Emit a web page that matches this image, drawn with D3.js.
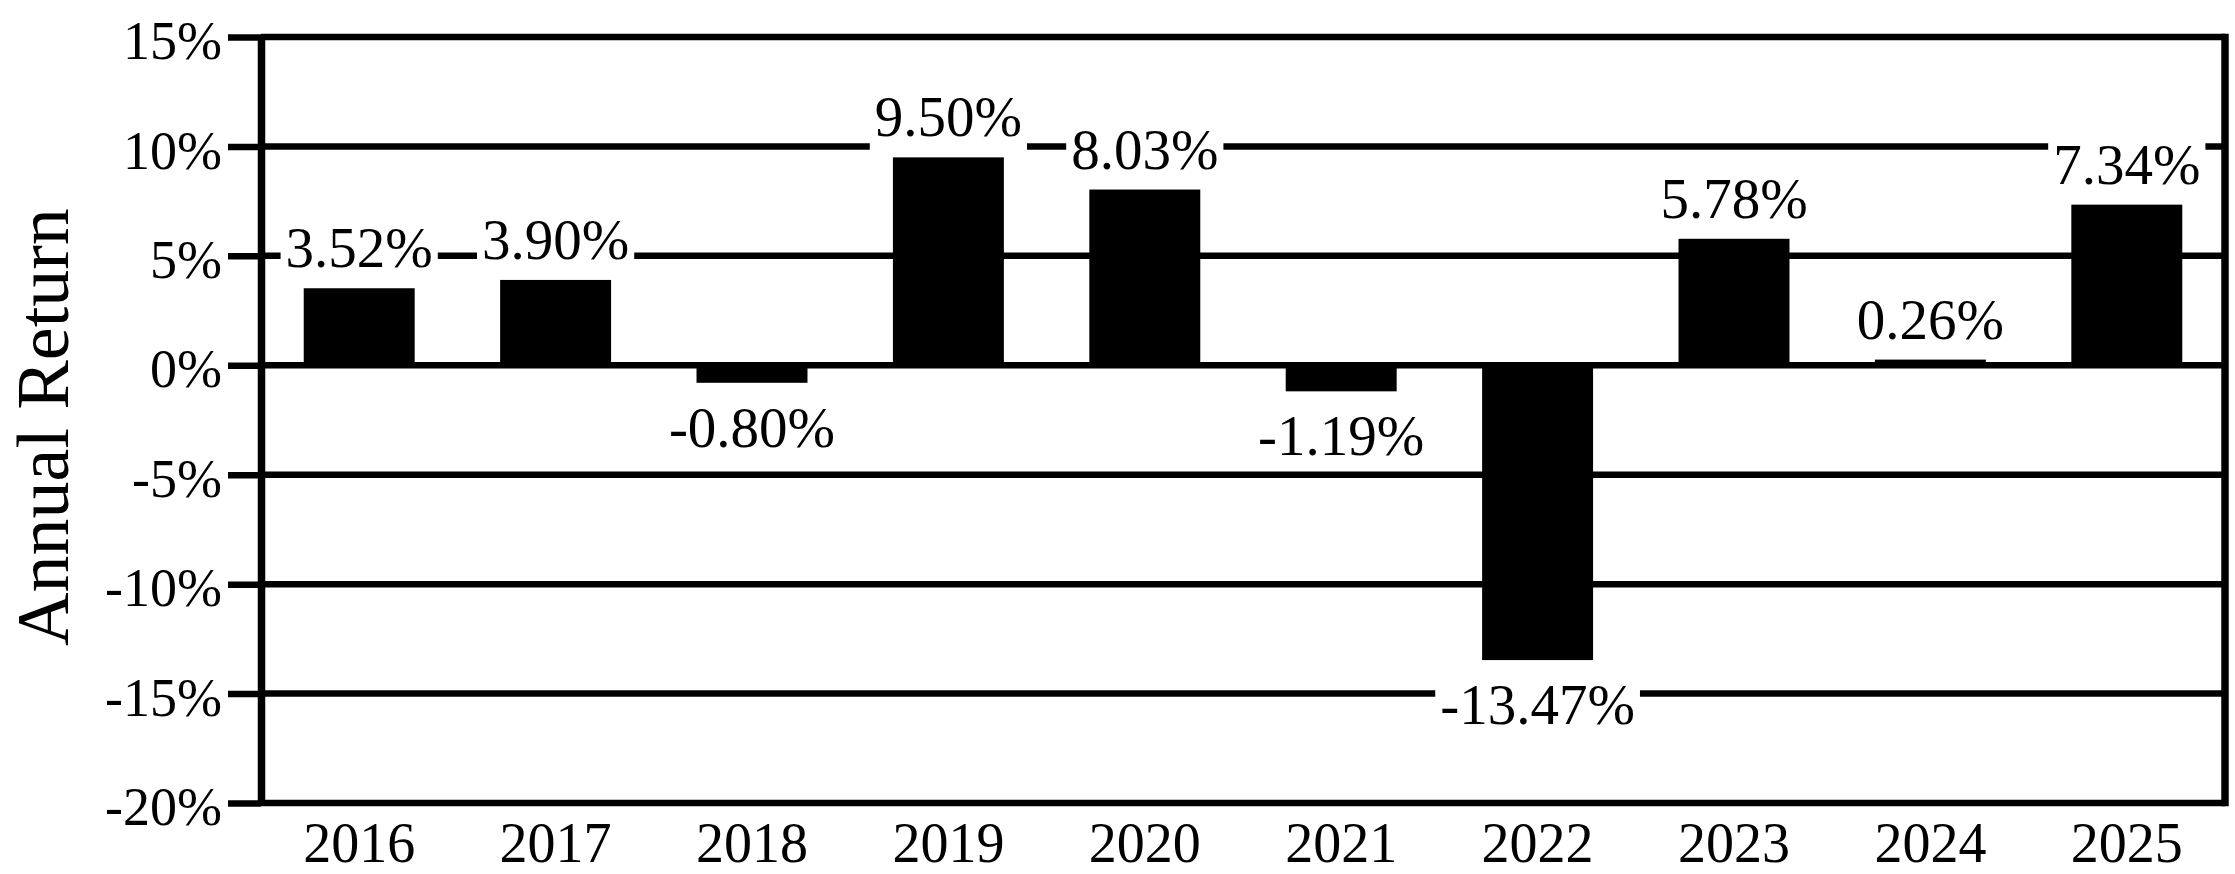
<!DOCTYPE html>
<html>
<head>
<meta charset="utf-8">
<script src="https://cdn.jsdelivr.net/npm/d3@7"></script>
<style>
  html, body { margin: 0; padding: 0; background: #fff; }
  svg { display: block; }
  text { font-family: "Liberation Serif", "Times New Roman", serif; fill: #000; }
</style>
</head>
<body>
<svg id="chart" width="2235" height="874"></svg>
<script>
const years = ["2016","2017","2018","2019","2020","2021","2022","2023","2024","2025"];
const returns = [3.52, 3.90, -0.80, 9.50, 8.03, -1.19, -13.47, 5.78, 0.26, 7.34];
const valueLabels = ["3.52%","3.90%","-0.80%","9.50%","8.03%","-1.19%","-13.47%","5.78%","0.26%","7.34%"];
const yTicks = [-20, -15, -10, -5, 0, 5, 10, 15];
const yTickLabels = ["-20%","-15%","-10%","-5%","0%","5%","10%","15%"];
const yTitle = "Annual Return";

(function () {
const svg = d3.select("#chart");
const pLeft = 261, pRight = 2225, pTop = 37, pBottom = 803;
const lw = 6.5;

const x = d3.scaleBand().domain(years).range([pLeft, pRight]).paddingInner(0.435).paddingOuter(0.2175);
const y = d3.scaleLinear().domain([-20, 15]).range([pBottom, pTop]);

// gridlines
svg.append("g").selectAll("line").data(yTicks).join("line")
  .attr("x1", pLeft).attr("x2", pRight)
  .attr("y1", d => y(d)).attr("y2", d => y(d))
  .attr("stroke", "#000").attr("stroke-width", lw);

// bars
svg.append("g").selectAll("rect").data(returns).join("rect")
  .attr("x", (d, i) => x(years[i]))
  .attr("width", x.bandwidth())
  .attr("y", d => y(Math.max(0, d)))
  .attr("height", d => Math.abs(y(d) - y(0)))
  .attr("fill", "#000");

// value labels with white backgrounds
const lg = svg.append("g");
returns.forEach((v, i) => {
  const g = lg.append("g");
  const cx = x(years[i]) + x.bandwidth() / 2;
  const ty = v >= 0 ? y(v) - 21 : y(v) + 64;
  const t = g.append("text")
    .attr("x", cx).attr("y", ty)
    .attr("text-anchor", "middle")
    .attr("font-size", 57)
    .text(valueLabels[i]);
  const bb = t.node().getBBox();
  g.insert("rect", "text")
    .attr("x", bb.x - 5).attr("y", bb.y - 2)
    .attr("width", bb.width + 10).attr("height", bb.height + 4)
    .attr("fill", "#fff");
});

// y axis
const yAxis = d3.axisLeft(y)
  .tickValues(yTicks)
  .tickFormat((d, i) => yTickLabels[i])
  .tickSize(33)
  .tickSizeOuter(0)
  .tickPadding(6);
const ya = svg.append("g").attr("transform", `translate(${pLeft},0)`).call(yAxis);
ya.select(".domain").attr("stroke", "#000").attr("stroke-width", lw + 1);
ya.selectAll(".tick line").attr("stroke", "#000").attr("stroke-width", lw);
ya.selectAll(".tick text")
  .attr("font-family", '"Liberation Serif", "Times New Roman", serif')
  .attr("font-size", 54)
  .attr("dy", "0.4em")
  .attr("fill", "#000");

// right frame line
svg.append("line")
  .attr("x1", pRight).attr("x2", pRight)
  .attr("y1", y(15) - lw / 2).attr("y2", y(-20) + lw / 2)
  .attr("stroke", "#000").attr("stroke-width", lw + 1);

// x labels
svg.append("g").selectAll("text").data(years).join("text")
  .attr("x", d => x(d) + x.bandwidth() / 2)
  .attr("y", 862)
  .attr("text-anchor", "middle")
  .attr("font-size", 56)
  .text(d => d);

// y title
svg.append("text")
  .attr("transform", "translate(68,427) rotate(-90)")
  .attr("text-anchor", "middle")
  .attr("font-size", 74)
  .text(yTitle);
})();
</script>
</body>
</html>
